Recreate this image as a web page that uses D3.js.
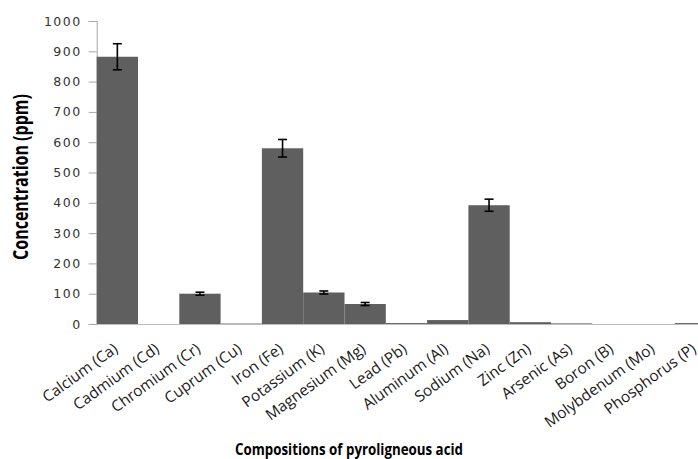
<!DOCTYPE html>
<html>
<head>
<meta charset="utf-8">
<script src="https://cdn.jsdelivr.net/npm/d3@7"></script>
<style>
  html, body { margin: 0; padding: 0; background: #fff; }
  svg { display: block; }
</style>
</head>
<body>
<svg id="chart" width="698" height="459"></svg>
<script>
const categories = ["Calcium (Ca)","Cadmium (Cd)","Chromium (Cr)","Cuprum (Cu)","Iron (Fe)","Potassium (K)","Magnesium (Mg)","Lead (Pb)","Aluminum (Al)","Sodium (Na)","Zinc (Zn)","Arsenic (As)","Boron (B)","Molybdenum (Mo)","Phosphorus (P)"];
const values = [882, 0, 100, 1.5, 580, 104, 66, 3, 13, 392, 6, 2, 0, 0, 3];
const errors = [43, 0, 5, 0, 29, 5, 5, 0, 0, 20, 0, 0, 0, 0, 0];
const yTicks = [0, 100, 200, 300, 400, 500, 600, 700, 800, 900, 1000];
const yTitle = "Concentration (ppm)";
const xTitle = "Compositions of pyroligneous acid";

const svg = d3.select("#chart");
const plotLeft = 96.7, plotTop = 21, plotBottom = 324, bandStep = 41.3;

const x = d3.scaleBand().domain(categories).range([plotLeft, plotLeft + bandStep * categories.length]).paddingInner(0).paddingOuter(0);
const y = d3.scaleLinear().domain([0, 1000]).range([plotBottom, plotTop]);

// Y axis
const yAxis = svg.append("g").attr("transform", `translate(${plotLeft},0)`)
  .call(d3.axisLeft(y).tickValues(yTicks).tickSize(8).tickPadding(8).tickFormat(d3.format("d")));
yAxis.select(".domain").attr("stroke", "#a6a6a6");
yAxis.selectAll(".tick line").attr("stroke", "#a6a6a6");
yAxis.selectAll(".tick text")
  .attr("font-family", "DejaVu Sans, sans-serif")
  .attr("font-size", 12.5)
  .attr("letter-spacing", 1.5)
  .attr("fill", "#333")
  .attr("x", -15);

// X axis line
const xAxis = svg.append("g").attr("transform", `translate(0,${plotBottom})`)
  .call(d3.axisBottom(x).tickSize(0).tickPadding(0));
xAxis.select(".domain").attr("stroke", "#bdbdbd").attr("d", `M${plotLeft},0.5H698`);
xAxis.selectAll(".tick text")
  .attr("font-family", "Open Sans, sans-serif")
  .attr("font-size", 15.4)
  .attr("fill", "#1a1a1a")
  .attr("text-anchor", "end")
  .attr("y", 0)
  .attr("dy", "0.72em")
  .attr("transform", "translate(-5,18) rotate(-36)");

// Bars
svg.append("g").selectAll("rect").data(categories).join("rect")
  .attr("x", d => x(d))
  .attr("width", x.bandwidth())
  .attr("y", (d, i) => y(values[i]))
  .attr("height", (d, i) => y(0) - y(values[i]))
  .attr("fill", "#5f5f5f");

// Error bars
const eb = svg.append("g").attr("stroke", "#000").attr("stroke-width", 1.6).attr("fill", "none");
categories.forEach((c, i) => {
  if (errors[i] <= 0) return;
  const cx = x(c) + x.bandwidth() / 2;
  const y1 = y(values[i] + errors[i]), y2 = y(values[i] - errors[i]);
  eb.append("line").attr("x1", cx).attr("x2", cx).attr("y1", y1).attr("y2", y2);
  eb.append("line").attr("x1", cx - 4.5).attr("x2", cx + 4.5).attr("y1", y1).attr("y2", y1);
  eb.append("line").attr("x1", cx - 4.5).attr("x2", cx + 4.5).attr("y1", y2).attr("y2", y2);
});

// Titles
svg.append("text")
  .attr("transform", "translate(28,177) scale(1.3,1) rotate(-90)")
  .attr("text-anchor", "middle")
  .attr("font-family", "Open Sans, sans-serif")
  .attr("font-weight", 700)
  .attr("font-size", 16)
  .attr("fill", "#000")
  .text(yTitle);

svg.append("text")
  .attr("x", 235).attr("y", 455)
  .attr("font-family", "Open Sans, sans-serif")
  .attr("font-weight", 700)
  .attr("font-size", 16)
  .attr("textLength", 228)
  .attr("lengthAdjust", "spacingAndGlyphs")
  .attr("fill", "#000")
  .text(xTitle);
</script>
</body>
</html>
